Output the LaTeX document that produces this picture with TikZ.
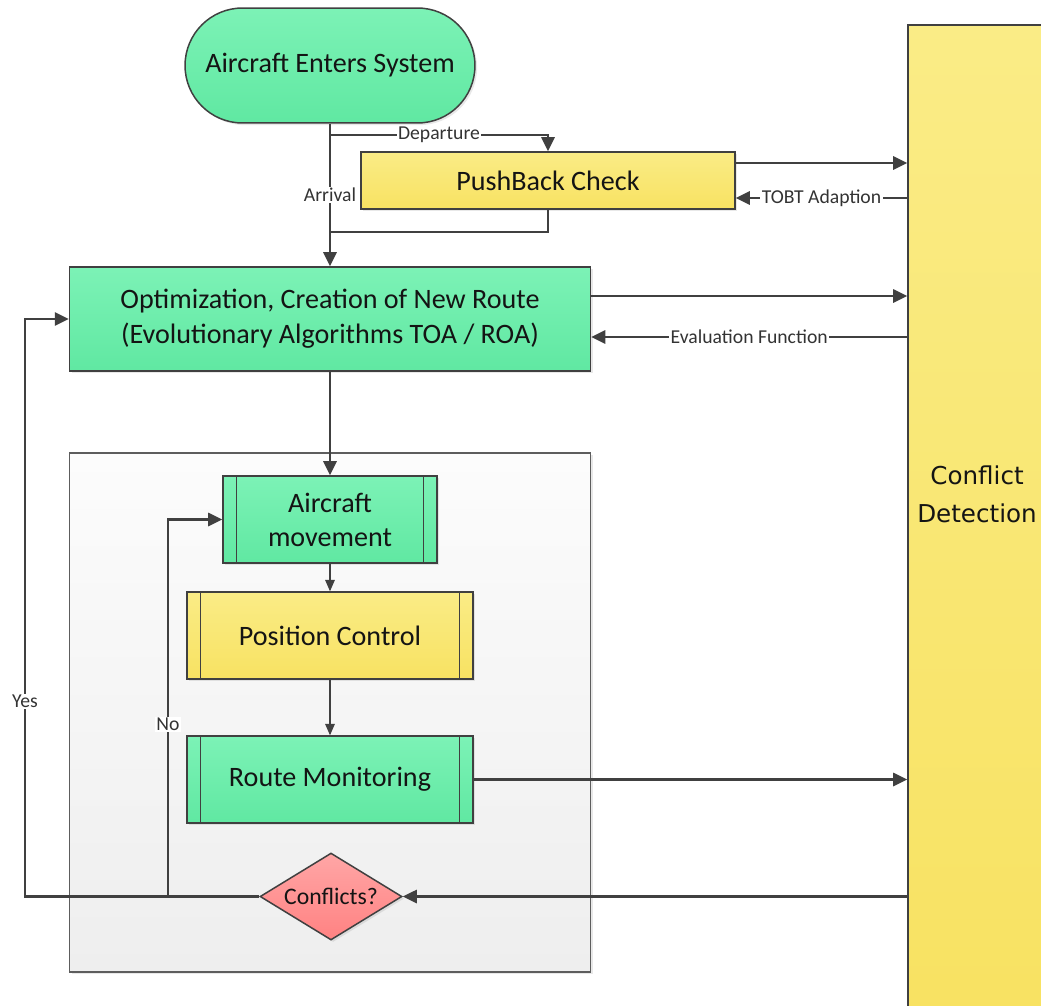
\documentclass[tikz,border=0pt]{standalone}
\usepackage{fontspec}
\setmainfont{Carlito}
\newfontfamily\cdfont{DejaVu Sans}
\usetikzlibrary{arrows.meta, positioning, calc, shapes.geometric, shadows}
\definecolor{ln}{HTML}{404040}
\definecolor{g1}{HTML}{7CF2B6}
\definecolor{g2}{HTML}{60E8A2}
\definecolor{y1}{HTML}{FAEC86}
\definecolor{y2}{HTML}{F8E262}
\definecolor{r1}{HTML}{FFA6A6}
\definecolor{r2}{HTML}{FF8282}
\definecolor{bx1}{HTML}{FCFCFC}
\definecolor{bx2}{HTML}{EEEEEE}

\begin{document}
\begin{tikzpicture}[x=0.02cm, y=-0.02cm,
    every node/.style={font=\fontsize{16}{19.5}\selectfont, text=black!92},
    shd/.style={drop shadow={opacity=0.18, shadow xshift=1.2pt, shadow yshift=-1.2pt}},
    box/.style={draw=ln, line width=0.85pt, align=center, inner sep=0pt, shd},
    grn/.style={box, top color=g1, bottom color=g2},
    ylw/.style={box, top color=y1, bottom color=y2},
    lab/.style={font=\fontsize{11.2}{13}\selectfont, text=ln!80!black, fill=white, inner sep=0.8pt},
    con/.style={draw=ln, line width=1.25pt, -{Triangle[length=8pt,width=7.5pt]}},
    slim/.style={draw=ln, line width=0.6pt, -{Triangle[length=6.5pt,width=5.5pt]}},
]
\useasboundingbox (0,0) rectangle (1041,1005);
\clip (0,0) rectangle (1041,1005);

% ---------------- right: conflict detection
\node[draw=ln, line width=0.85pt, top color=y1, bottom color=y2,
    minimum width=2.76cm, minimum height=19.8cm] (cd) at (977,520) {};
\node[font=\cdfont\fontsize{14}{21.5}\selectfont, align=center] (cdt) at (977,494)
    {Conflict\\Detection};

% ---------------- top: entry and pushback
\node[grn, rounded corners=1.15cm, minimum width=5.8cm, minimum height=2.3cm]
    (start) at (330,65.5) {Aircraft Enters System};
\node[ylw, minimum width=7.48cm, minimum height=1.14cm] (push) at (548,180.5) {PushBack Check};
\node[grn, minimum width=10.42cm, minimum height=2.08cm, font=\fontsize{16}{20}\selectfont]
    (opt) at (330,319) {Optimization, Creation of New Route\\(Evolutionary Algorithms TOA / ROA)};

% ---------------- loop group
\node[draw=ln!85, line width=0.8pt, top color=bx1, bottom color=bx2, shd,
    minimum width=10.42cm, minimum height=10.38cm] (grp) at (330,712.5) {};
\node[grn, minimum width=4.28cm, minimum height=1.74cm, font=\fontsize{16}{19.3}\selectfont]
    (move) at (330,519.5) {Aircraft\\movement};
\node[ylw, minimum width=5.72cm, minimum height=1.74cm] (pos) at (330,635.5) {Position Control};
\node[grn, minimum width=5.72cm, minimum height=1.74cm] (mon) at (330,779.5) {Route Monitoring};
\foreach \n in {move,pos,mon}{
    \draw[ln, line width=0.85pt] ([xshift=0.28cm]\n.north west) -- ([xshift=0.28cm]\n.south west);
    \draw[ln, line width=0.85pt] ([xshift=-0.28cm]\n.north east) -- ([xshift=-0.28cm]\n.south east);
}
\node[diamond, draw=ln, line width=0.85pt, top color=r1, bottom color=r2, aspect=1.63, shd,
    minimum width=2.84cm, minimum height=1.74cm, inner sep=0pt,
    font=\fontsize{13.5}{16}\selectfont] (conf) at (331,896.5) {Conflicts?};

% ---------------- connectors
\coordinate (dep) at (330,135);
\coordinate (ret) at (330,232);
\coordinate (yes) at (25,896.5);
\coordinate (no) at (168,896.5);
\draw[con] (start.south) -- node[lab, pos=0.5] {Arrival} (opt.north);
\draw[con] (dep) -- node[lab] {Departure} (dep -| push.north) -- (push.north);
\draw[ln, line width=1.25pt] (push.south) |- (ret);
\draw[con] ([yshift=0.35cm]push.east) -- ([yshift=0.35cm]push.east -| cd.west);
\draw[con] ([yshift=-0.35cm]push.east -| cd.west) -- node[lab] {TOBT Adaption} ([yshift=-0.35cm]push.east);
\draw[con] ([yshift=0.46cm]opt.east) -- ([yshift=0.46cm]opt.east -| cd.west);
\draw[con] ([yshift=-0.36cm]opt.east -| cd.west) -- node[lab] {Evaluation Function} ([yshift=-0.36cm]opt.east);
\draw[con] (opt.south) -- (move.north);
\draw[slim] (move.south) -- (pos.north);
\draw[slim] (pos.south) -- (mon.north);
\draw[con] (mon.east) -- (mon.east -| cd.west);
\draw[con] (conf.east -| cd.west) -- (conf.east);
\draw[con] (conf.west) -- (yes) -- node[lab, pos=0.338] {Yes} (yes |- opt.west) -- (opt.west);
\draw[con] (no) -- node[lab, pos=0.456] {No} (no |- move.west) -- (move.west);

\end{tikzpicture}
\end{document}
